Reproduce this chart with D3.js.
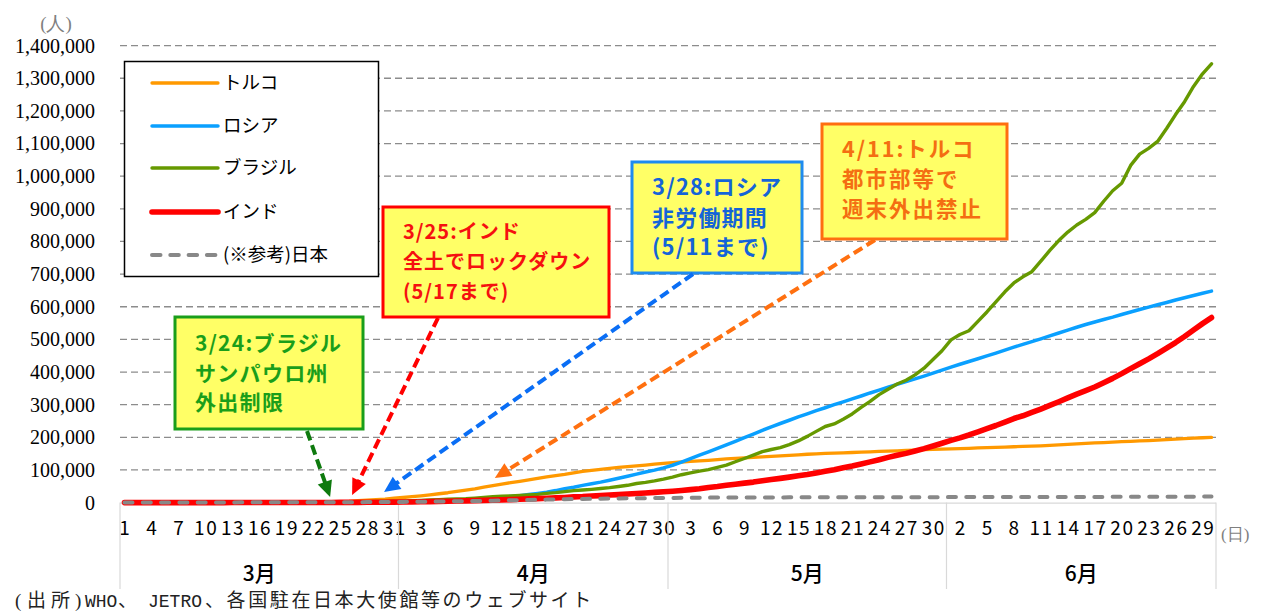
<!DOCTYPE html>
<html>
<head>
<meta charset="utf-8">
<script src="https://cdn.jsdelivr.net/npm/d3@7"></script>
<style>
  html, body { margin: 0; padding: 0; background: #fff; }
  svg { display: block; }
</style>
</head>
<body>
<svg id="chart" width="1266" height="613"></svg>
<script>
// 月と日数（2020年3月1日～6月30日）
const months = ["3月", "4月", "5月", "6月"];
const monthDays = [31, 30, 31, 30];

// 縦軸目盛
const yTicks = [0, 100000, 200000, 300000, 400000, 500000, 600000, 700000,
                800000, 900000, 1000000, 1100000, 1200000, 1300000, 1400000];

const seriesNames = ["トルコ", "ロシア", "ブラジル", "インド", "(※参考)日本"];

// 累計感染者数（人）
const turkey = [
  null, null, null, null, null, null, null, null, null, null, 1, 1, 5, 6, 18, 47, 98, 191, 359, 670, 947, 1236, 1529, 1872, 2433, 3629, 5698, 7402, 9217, 10827, 13531,
  15679, 18135, 20921, 23934, 27069, 30217, 34109, 38226, 42282, 47029, 52167, 56956, 61049, 65111, 69392, 74193, 78546, 82329, 86306, 90980, 95591, 98674, 101790, 104912, 107773, 110130, 112261, 114653, 117589, 120204,
  122392, 124375, 126045, 127659, 129491, 131744, 133721, 135569, 137115, 138657, 139771, 141475, 143114, 144749, 146457, 148067, 149435, 150593, 151615, 152587, 153548, 154500, 155686, 156827, 157814, 158762, 159797, 160979, 162120, 163103, 163942,
  164769, 165555, 166422, 167410, 168340, 169218, 170132, 171121, 172114, 173036, 174023, 175218, 176677, 178239, 179831, 181298, 182727, 184031, 185245, 186493, 187685, 188897, 190165, 191657, 193115, 194511, 195883, 197239, 198613, 199906
];
const russia = [
  2, 3, 3, 3, 4, 10, 14, 17, 17, 20, 28, 34, 45, 59, 63, 93, 114, 147, 199, 253, 306, 367, 438, 495, 658, 840, 1036, 1264, 1534, 1836, 2337,
  2777, 3548, 4149, 4731, 5389, 6343, 7497, 8672, 10131, 11917, 13584, 15770, 18328, 21102, 24490, 27938, 32008, 36793, 42853, 47121, 52763, 57999, 62773, 68622, 74588, 80949, 87147, 93558, 99399, 106498,
  114431, 124054, 134686, 145268, 155370, 165929, 177160, 187859, 198676, 209688, 221344, 232243, 242271, 252245, 262843, 272043, 281752, 290678, 299941, 308705, 317554, 326448, 335882, 344481, 353427, 362342, 370680, 379051, 387623, 396575, 405843,
  414878, 423741, 432277, 440538, 449256, 458102, 467073, 476043, 484630, 493023, 501800, 510761, 519458, 528267, 537210, 545458, 553301, 561091, 568292, 576162, 583879, 591465, 598878, 606043, 613148, 620794, 627646, 634437, 641156, 647849
];
const brazil = [
  1, 2, 2, 2, 2, 3, 8, 13, 19, 25, 25, 34, 52, 77, 98, 121, 200, 234, 291, 428, 621, 904, 1128, 1546, 1891, 2201, 2433, 2915, 3417, 3904, 4256,
  4579, 5717, 6836, 8044, 9056, 10360, 11130, 12056, 13717, 15927, 17857, 19638, 20727, 22169, 23430, 25262, 28320, 30425, 33682, 36599, 38654, 40581, 43079, 45757, 49492, 52995, 58509, 61888, 66501, 71886,
  78162, 85380, 91299, 96396, 101147, 107780, 114715, 125218, 135106, 145328, 155939, 162699, 168331, 177589, 188974, 202918, 218223, 233142, 241080, 255368, 271628, 291579, 310087, 330890, 347398, 363211, 374898, 391222, 411821, 438238, 465166,
  498440, 514849, 526447, 555383, 584016, 614941, 645771, 672846, 691758, 707412, 739503, 772416, 802828, 828810, 850514, 867624, 888271, 923189, 955377, 978142, 1032913, 1067579, 1085038, 1106470, 1145906, 1188631, 1228114, 1274974, 1313667, 1344143
];
const india = [
  3, 3, 5, 6, 28, 30, 31, 34, 39, 48, 63, 71, 81, 91, 102, 112, 126, 146, 171, 198, 256, 334, 403, 497, 571, 657, 730, 883, 1019, 1139, 1326,
  1635, 2059, 2545, 3105, 3684, 4293, 4777, 5350, 5915, 6725, 7598, 8446, 9205, 10453, 11487, 12322, 13430, 14352, 15722, 17615, 18539, 20080, 21370, 23077, 24530, 26283, 27890, 29451, 31324, 33062,
  34863, 37257, 39699, 42505, 46437, 49400, 52987, 56351, 59695, 62808, 67161, 70768, 74292, 78055, 81997, 85784, 90648, 95698, 100328, 106475, 112028, 118226, 124794, 131423, 138536, 144950, 150793, 158086, 165386, 173491, 181827,
  190609, 198370, 207191, 216824, 226713, 236184, 246622, 257486, 265928, 276146, 286579, 297535, 308993, 320922, 332424, 343091, 354065, 367264, 380532, 395048, 410461, 425282, 440215, 456183, 473105, 490401, 508953, 528859, 548318, 566840
];
const japan = [
  239, 254, 268, 284, 317, 348, 407, 455, 488, 514, 568, 620, 675, 716, 780, 814, 829, 873, 914, 950, 1007, 1054, 1089, 1128, 1193, 1307, 1387, 1499, 1693, 1866, 1953,
  2178, 2384, 2617, 2935, 3271, 3654, 3906, 4257, 4768, 5347, 6005, 6748, 7255, 7645, 8100, 8582, 9167, 9787, 10361, 10751, 11118, 11496, 11919, 12388, 12829, 13182, 13385, 13576, 13852, 14088,
  14281, 14544, 14839, 15057, 15231, 15354, 15463, 15547, 15649, 15747, 15798, 15854, 15908, 16024, 16079, 16120, 16203, 16237, 16285, 16305, 16367, 16385, 16424, 16513, 16536, 16550, 16581, 16623, 16651, 16683, 16719,
  16804, 16851, 16867, 16911, 16930, 16986, 17018, 17064, 17103, 17141, 17174, 17210, 17251, 17292, 17339, 17386, 17431, 17502, 17587, 17628, 17712, 17799, 17864, 17919, 18024, 18110, 18197, 18297, 18390, 18476
];

// 系列スタイル
const seriesData = [turkey, russia, brazil, india, japan];
const seriesColors = ["#FF9900", "#0AA0FF", "#669900", "#FF0000", "#888888"];
const seriesWidths = [3.3, 3.5, 3.4, 5.6, 4];
const seriesDash = [null, null, null, null, "8,10.3"];

// 吹き出し（措置の開始日）
const notes = [
  { lines: ["3/24:ブラジル", "サンパウロ州", "外出制限"], month: 0, day: 24,
    box: [175, 317, 188, 112], size: 21, spacing: 1.3, lineY: [343, 373, 402],
    border: "#1A9E1A", text: "#1A9E1A", arrow: "#0E7A0E", from: [307, 431], dx: -1, tipY: 497 },
  { lines: ["3/25:インド", "全土でロックダウン", "(5/17まで)"], month: 0, day: 25,
    box: [383, 207, 226, 110], size: 20, spacing: 1, lineY: [232, 262, 292],
    border: "#FF0000", text: "#F51010", arrow: "#FF0000", from: [438, 318], dx: 12, tipY: 495 },
  { lines: ["3/28:ロシア", "非労働期間", "(5/11まで)"], month: 0, day: 28,
    box: [632, 162, 170, 111], size: 22, spacing: 1.2, lineY: [187, 218, 247],
    border: "#1E8BF0", text: "#1464D8", arrow: "#0A6EF5", from: [693, 274], dx: 17, tipY: 492 },
  { lines: ["4/11:トルコ", "都市部等で", "週末外出禁止"], month: 1, day: 11,
    box: [822, 124, 185, 115], size: 21.5, spacing: 2, lineY: [149, 179, 209],
    border: "#FF6E10", text: "#F46E12", arrow: "#FF7010", from: [875, 240], dx: 2, tipY: 478 }
];

const svg = d3.select("#chart");
const jpFont = "'Noto Sans CJK JP', 'Noto Sans', sans-serif";
const serifFont = "'Liberation Serif', 'DejaVu Serif', serif";
const monoFont = "'Liberation Mono', 'DejaVu Sans Mono', monospace";

// 日付カテゴリ
const days = [];
months.forEach((m, mi) => { for (let d = 1; d <= monthDays[mi]; d++) days.push({ month: mi, day: d }); });
const dayIdx = (m, d) => days.findIndex(o => o.month === m && o.day === d);

const plotLeft = 120, plotRight = 1216, plotTop = 45.6, plotBottom = 502.6;
const x = d3.scaleBand().domain(d3.range(days.length)).range([plotLeft, plotRight]).padding(0);
const cx = i => x(i) + x.bandwidth() / 2;
const y = d3.scaleLinear().domain([0, 1400000]).range([plotBottom, plotTop]);

// 目盛線（破線）
svg.append("g")
  .selectAll("line").data(yTicks.filter(v => v > 0)).join("line")
  .attr("x1", plotLeft).attr("x2", plotRight)
  .attr("y1", d => y(d)).attr("y2", d => y(d))
  .attr("stroke", "#8c8c8c").attr("stroke-width", 1.3).attr("stroke-dasharray", "7,4");

// 縦軸ラベル
const yAxis = svg.append("g").attr("transform", "translate(97,0)")
  .call(d3.axisLeft(y).tickValues(yTicks).tickFormat(d3.format(",")).tickSize(0).tickPadding(2));
yAxis.select(".domain").remove();
yAxis.selectAll("text").attr("font-family", serifFont).attr("font-size", 20).attr("fill", "#000");

svg.append("text").attr("x", 56).attr("y", 30).attr("text-anchor", "middle")
  .attr("font-family", serifFont).attr("font-size", 19).attr("fill", "#7f7f7f").text("(人)");

// 横軸
svg.append("line").attr("x1", plotLeft).attr("x2", plotRight)
  .attr("y1", plotBottom + 0.5).attr("y2", plotBottom + 0.5)
  .attr("stroke", "#d9d9d9").attr("stroke-width", 1.2);

const xAxis = svg.append("g").attr("transform", `translate(0,${plotBottom})`)
  .call(d3.axisBottom(x).tickValues(d3.range(0, days.length, 3))
    .tickFormat(i => days[i].day).tickSize(0).tickPadding(19));
xAxis.select(".domain").remove();
xAxis.selectAll("text").attr("font-family", jpFont).attr("font-size", 19)
  .attr("letter-spacing", 1.6).attr("dx", "0.8").attr("fill", "#000");

// 月区切りと月ラベル
const monthStart = months.map((m, mi) => dayIdx(mi, 1));
const bounds = monthStart.map(i => x(i)).concat([plotRight]);
svg.append("g").selectAll("line").data(bounds).join("line")
  .attr("x1", d => d).attr("x2", d => d).attr("y1", plotBottom).attr("y2", 589)
  .attr("stroke", "#d9d9d9").attr("stroke-width", 1.2);
svg.append("g").selectAll("text").data(months).join("text")
  .attr("x", (d, i) => (bounds[i] + bounds[i + 1]) / 2).attr("y", 581)
  .attr("text-anchor", "middle").attr("font-family", jpFont).attr("font-size", 21)
  .attr("font-weight", 500).attr("fill", "#000").text(d => d);

svg.append("text").attr("x", 1221).attr("y", 540)
  .attr("font-family", serifFont).attr("font-size", 17).attr("fill", "#7f7f7f").text("(日)");

// 折れ線
const line = d3.line().defined(d => d != null).x((d, i) => cx(i)).y(d => y(d));
const lineG = svg.append("g");
seriesData.forEach((data, k) => {
  lineG.append("path").datum(data)
    .attr("d", line)
    .attr("fill", "none")
    .attr("stroke", seriesColors[k])
    .attr("stroke-width", seriesWidths[k])
    .attr("stroke-linejoin", "round")
    .attr("stroke-linecap", "round")
    .attr("stroke-dasharray", seriesDash[k]);
});

// 凡例
const legend = svg.append("g");
legend.append("rect").attr("x", 124.5).attr("y", 61.5).attr("width", 254).attr("height", 215)
  .attr("fill", "#fff").attr("stroke", "#000").attr("stroke-width", 1.5);
const legendY = [83, 126, 168, 212, 255];
seriesNames.forEach((name, k) => {
  legend.append("line").attr("x1", 152).attr("x2", 218).attr("y1", legendY[k]).attr("y2", legendY[k])
    .attr("stroke", seriesColors[k]).attr("stroke-width", seriesWidths[k])
    .attr("stroke-linecap", "round").attr("stroke-dasharray", k === 4 ? "8.5,9.8" : null);
  legend.append("text").attr("x", 223).attr("y", legendY[k]).attr("dy", "0.35em")
    .attr("font-family", jpFont).attr("font-size", 18.5).attr("fill", "#000").text(name);
});

// 吹き出しと矢印
const noteG = svg.append("g");
notes.forEach(n => {
  const [bx, by, bw, bh] = n.box;
  noteG.append("rect").attr("x", bx).attr("y", by).attr("width", bw).attr("height", bh)
    .attr("fill", "#FFFF66").attr("stroke", n.border).attr("stroke-width", 3);
  n.lines.forEach((t, j) => {
    noteG.append("text").attr("x", bx + 20).attr("y", n.lineY[j]).attr("dy", "0.36em")
      .attr("font-family", jpFont).attr("font-size", n.size).attr("font-weight", 700)
      .attr("letter-spacing", n.spacing).attr("fill", n.text).text(t);
  });
  const tx = cx(dayIdx(n.month, n.day)) + n.dx, ty = n.tipY;
  const [fx, fy] = n.from;
  const len = Math.hypot(tx - fx, ty - fy);
  const ux = (tx - fx) / len, uy = (ty - fy) / len;
  const head = 16, half = 7.5;
  const bxh = tx - ux * head, byh = ty - uy * head;
  noteG.append("line").attr("x1", fx).attr("y1", fy).attr("x2", bxh + ux * 2).attr("y2", byh + uy * 2)
    .attr("stroke", n.arrow).attr("stroke-width", 4).attr("stroke-dasharray", "10,5");
  noteG.append("polygon")
    .attr("points", [[tx, ty], [bxh - uy * half, byh + ux * half], [bxh + uy * half, byh - ux * half]].map(p => p.join(",")).join(" "))
    .attr("fill", n.arrow);
});

// 出所
const srcY = 607;
const src = svg.append("text").attr("y", srcY).attr("font-size", 19).attr("fill", "#222")
  .attr("font-family", jpFont);
const srcParts = [
  { t: "(", x: 15, font: serifFont },
  { t: "出所", x: 27, font: jpFont, ls: 5 },
  { t: ")", x: 75, font: serifFont },
  { t: "WHO", x: 85, font: monoFont, size: 18 },
  { t: "、", x: 118, font: jpFont },
  { t: "JETRO", x: 148, font: monoFont, size: 18 },
  { t: "、各国駐在日本大使館等のウェブサイト", x: 205, font: jpFont, ls: 2.6 }
];
srcParts.forEach(p => {
  const ts = src.append("tspan").attr("x", p.x).attr("font-family", p.font).text(p.t);
  if (p.ls) ts.attr("letter-spacing", p.ls);
  if (p.size) ts.attr("font-size", p.size);
});
</script>
</body>
</html>
